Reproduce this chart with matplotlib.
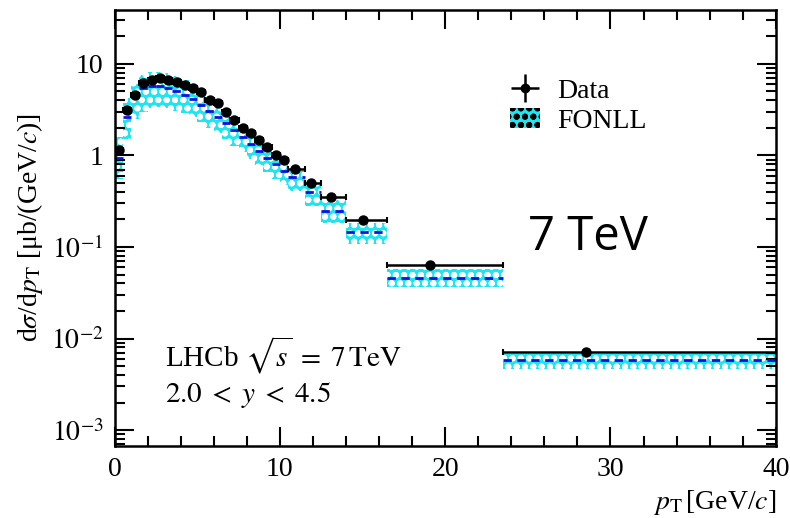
import numpy as np
import matplotlib
matplotlib.use("Agg")
from matplotlib import pyplot as plt
from matplotlib.patches import Patch

# bin edges in pT [GeV/c]
edges = [0, 0.5, 1, 1.5, 2, 2.5, 3, 3.5, 4, 4.5, 5, 5.5, 6, 6.5, 7, 7.5, 8, 8.5,
         9, 9.5, 10, 10.5, 11.5, 12.5, 14, 16.5, 23.5, 40]

# mean pT of each bin (where the data point sits)
data_x = [0.25, 0.75, 1.25, 1.75, 2.25, 2.75, 3.25, 3.75, 4.25, 4.75, 5.25, 5.75,
          6.25, 6.75, 7.25, 7.75, 8.25, 8.75, 9.25, 9.75, 10.25,
          10.9, 11.9, 13.1, 15.0, 19.1, 28.5]

# measured cross-section [ub/(GeV/c)]
data = [1.16, 3.12, 4.56, 6.13, 6.67, 6.97, 6.67, 6.29, 5.87, 5.41, 4.96, 4.02,
        3.70, 2.99, 2.47, 2.01, 1.76, 1.49, 1.23, 1.02, 0.90,
        0.715, 0.50, 0.348, 0.196, 0.063, 0.0072]
data_err = [0.05, 0.1, 0.15, 0.2, 0.2, 0.2, 0.2, 0.2, 0.2, 0.15, 0.15, 0.12,
            0.1, 0.09, 0.07, 0.06, 0.05, 0.05, 0.04, 0.03, 0.03,
            0.02, 0.015, 0.01, 0.006, 0.002, 0.0003]

# FONLL central value and uncertainty band
fonll = [0.95, 2.6, 4.3, 5.4, 5.7, 5.7, 5.5, 5.1, 4.6, 4.1, 3.6, 3.1,
         2.65, 2.25, 1.9, 1.6, 1.35, 1.13, 0.95, 0.80, 0.68,
         0.58, 0.40, 0.25, 0.145, 0.046, 0.0058]
fonll_lo = [0.56, 1.5, 2.5, 3.0, 3.3, 3.4, 3.3, 3.1, 2.9, 2.6, 2.3, 2.0,
            1.75, 1.5, 1.28, 1.08, 0.92, 0.78, 0.66, 0.56, 0.47,
            0.41, 0.28, 0.185, 0.107, 0.037, 0.0047]
fonll_hi = [1.6, 4.2, 6.1, 7.6, 8.2, 8.2, 7.9, 7.3, 6.6, 5.9, 5.1, 4.4,
            3.7, 3.1, 2.6, 2.2, 1.85, 1.55, 1.3, 1.1, 0.93,
            0.68, 0.49, 0.33, 0.185, 0.058, 0.0067]

plt.rcParams['font.family'] = ['Liberation Serif', 'DejaVu Serif']
plt.rcParams['mathtext.fontset'] = 'stix'
plt.rcParams['hatch.linewidth'] = 2.0

edges = np.array(edges)
lo_e = edges[:-1]
hi_e = edges[1:]
data_x = np.array(data_x)
xerr = [data_x - lo_e, hi_e - data_x]

fig = plt.figure(figsize=(7.9, 5.18), dpi=100)
ax = fig.add_axes([0.145, 0.139, 0.837, 0.842])

# FONLL band
ax.bar(lo_e, np.array(fonll_hi) - np.array(fonll_lo), width=hi_e - lo_e,
       bottom=fonll_lo, align='edge', facecolor='#1ee6f0', edgecolor='white',
       hatch='oo', linewidth=0, zorder=1)
ax.hlines(fonll, lo_e, hi_e, colors='#1010e0', linestyles=(0, (3, 2)),
          linewidth=2, zorder=2)

# data
ax.errorbar(data_x, data, xerr=xerr, yerr=data_err, fmt='o', color='black',
            markersize=6.5, elinewidth=1.8, capsize=2.5, capthick=1.5, zorder=3)

ax.set_yscale('log')
ax.set_xlim(0, 40)
ax.set_ylim(6.7e-4, 39)

ax.set_xticks([0, 10, 20, 30, 40])
ax.set_xticks(np.arange(0, 41, 2), minor=True)
ax.set_yticks([1e-3, 1e-2, 1e-1, 1, 10])
ax.set_yticklabels([r'$10^{-3}$', r'$10^{-2}$', r'$10^{-1}$', '1', '10'])
ax.tick_params(which='both', direction='in', top=True, right=True, labelsize=20,
               width=1.5)
ax.tick_params(which='major', length=14, pad=8)
ax.tick_params(which='minor', length=7)
for s in ax.spines.values():
    s.set_linewidth(1.8)

ax.set_ylabel(r'd$\sigma$/d$p_{\mathrm{T}}$ [μb/(GeV/$c$)]', fontsize=20)
ax.set_xlabel(r'$p_{\mathrm{T}}\,$[GeV/$c$]', fontsize=20, loc='right')

ax.text(0.076, 0.209, r'LHCb $\sqrt{s}\;=\;7\,\mathrm{TeV}$', transform=ax.transAxes,
        fontsize=21, va='center')
ax.text(0.076, 0.117, r'$2.0\;<\;y\;<\;4.5$', transform=ax.transAxes,
        fontsize=21, va='center')
ax.text(0.625, 0.479, '7 TeV', transform=ax.transAxes, fontsize=34,
        family='Open Sans', va='center')

handles = [
    ax.errorbar([], [], xerr=[], yerr=[], fmt='o', color='black', markersize=6,
                elinewidth=1.8),
    Patch(facecolor='#1ee6f0', edgecolor='black', hatch='oo', linewidth=0),
]
ax.legend(handles, ['Data', 'FONLL'], loc='upper left', bbox_to_anchor=(0.56, 0.9),
          frameon=False, fontsize=20, handlelength=1.1, labelspacing=0.15,
          handletextpad=0.6)

fig.savefig('out.png', dpi=100)
